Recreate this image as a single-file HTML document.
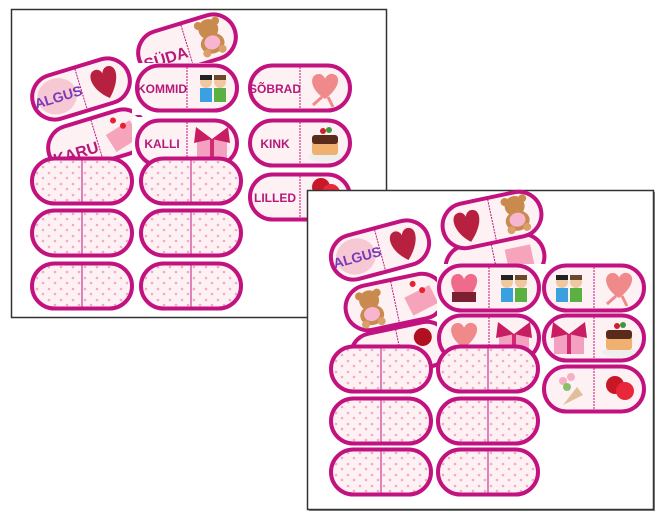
<!DOCTYPE html>
<html><head><meta charset="utf-8"><style>
html,body{margin:0;padding:0;background:#fff;width:663px;height:516px;overflow:hidden}
svg text{font-family:"Liberation Sans",sans-serif;font-weight:bold}
</style></head><body>
<svg width="663" height="516" viewBox="0 0 663 516" xmlns="http://www.w3.org/2000/svg">
<defs>
<pattern id="dots" width="12" height="11" patternUnits="userSpaceOnUse">
<rect width="12" height="11" fill="#fdf1f4"/>
<circle cx="3" cy="3" r="1.3" fill="#f4a9c4"/><circle cx="9" cy="8" r="1.3" fill="#f4a9c4"/>
</pattern>
<g id="pill"><rect x="-50" y="-22.5" width="100" height="45" rx="22.5" fill="#fdf1f4" stroke="#c1127f" stroke-width="4"/><line x1="0" y1="-21" x2="0" y2="21" stroke="#c1127f" stroke-width="1" stroke-dasharray="2 1"/></g>
<g id="blank"><rect x="-50" y="-22.5" width="100" height="45" rx="22.5" fill="url(#dots)" stroke="#c1127f" stroke-width="4"/><line x1="0" y1="-21" x2="0" y2="21" stroke="#c1127f" stroke-width="1"/></g>
<g id="heart"><path d="M0,17 C-16,4 -16,-14 -6,-14 C-2,-14 0,-10 0,-8 C0,-10 3,-15 8,-14 C17,-12 14,4 0,17Z" fill="#b8203f"/></g>
<g id="bear"><circle cx="-9" cy="-13" r="4" fill="#c98a4e"/><circle cx="9" cy="-13" r="4" fill="#c98a4e"/><circle cx="0" cy="-7" r="10" fill="#c98a4e"/><ellipse cx="0" cy="8" rx="12" ry="10" fill="#c98a4e"/><ellipse cx="0" cy="7" rx="8" ry="7" fill="#f7b5cf"/><circle cx="-8" cy="16" r="4" fill="#d9a06a"/><circle cx="8" cy="16" r="4" fill="#d9a06a"/></g>
<g id="boys"><circle cx="-7" cy="-9" r="6" fill="#f0c8a0"/><rect x="-13" y="-16" width="12" height="5" fill="#222"/><rect x="-13" y="-3" width="12" height="14" fill="#3aa0e0"/><circle cx="7" cy="-9" r="6" fill="#f0c8a0"/><rect x="1" y="-16" width="12" height="5" fill="#6a4a2a"/><rect x="1" y="-3" width="12" height="14" fill="#5ab040"/></g>
<g id="gift"><rect x="-15" y="-4" width="30" height="20" fill="#f4a0c0"/><rect x="-2" y="-4" width="4" height="20" fill="#d02a70"/><path d="M0,-4 L-16,-16 L-18,0Z M0,-4 L16,-16 L18,0Z" fill="#c81d62"/></g>
<g id="cake"><ellipse cx="0" cy="14" rx="17" ry="5" fill="#eee"/><rect x="-13" y="-6" width="26" height="18" rx="3" fill="#f0b070"/><rect x="-13" y="-8" width="26" height="9" rx="3" fill="#5a2a1a"/><circle cx="-2" cy="-12" r="3" fill="#d02030"/><circle cx="4" cy="-13" r="3" fill="#3a9a3a"/></g>
<g id="hchar"><path d="M0,10 C-16,0 -16,-15 -6,-15 C-2,-15 0,-11 0,-10 C0,-11 3,-16 8,-15 C17,-13 14,0 0,10Z" fill="#f08a8a"/><path d="M-3,8 L-12,16 M3,8 L8,18" stroke="#f08a8a" stroke-width="3"/></g>
<g id="box"><path d="M0,14 C-16,2 -16,-14 -6,-14 C-2,-14 0,-10 0,-8 C0,-10 3,-15 8,-14 C17,-12 14,2 0,14Z" fill="#f06a8a"/><rect x="-12" y="4" width="24" height="10" fill="#7a2030"/></g>
<g id="env"><rect x="-14" y="-6" width="28" height="20" fill="#f6a4bc" transform="rotate(-15)"/><circle cx="-4" cy="-14" r="3" fill="#e82030"/><circle cx="4" cy="-6" r="3" fill="#e82030"/></g>
<g id="flowers"><path d="M-6,16 L8,-2 L14,6Z" fill="#e0c09a"/><circle cx="-6" cy="-8" r="4" fill="#f4b0c4"/><circle cx="2" cy="-12" r="4" fill="#f4b0c4"/><circle cx="-2" cy="-2" r="4" fill="#8abf6a"/></g>
<g id="balloon"><circle cx="-4" cy="-4" r="9" fill="#c81828"/><circle cx="6" cy="2" r="9" fill="#e8283a"/></g>
<g id="blob"><ellipse cx="0" cy="0" rx="20" ry="18" fill="#f6c8d4"/></g>
</defs>

<!-- panel 1 -->
<rect x="11.5" y="9.5" width="375" height="308" fill="#fff" stroke="#333" stroke-width="1.5"/>
<g transform="translate(187,45) rotate(-17)"><use href="#pill"/><use href="#bear" x="25" y="-2"/><text x="-24" y="12" font-size="16" fill="#b5197a" text-anchor="middle">SÜDA</text></g>
<g transform="translate(81,89) rotate(-17)"><use href="#pill"/><use href="#blob" x="-25"/><use href="#heart" x="25"/><text x="-24" y="6" font-size="14" fill="#7a3ab8" text-anchor="middle">ALGUS</text></g>
<g transform="translate(97,140) rotate(-17)"><use href="#pill"/><use href="#env" x="25"/><text x="-24" y="12" font-size="16" fill="#b5197a" text-anchor="middle">KARU</text></g>
<rect x="132" y="63" width="112" height="52" fill="#fff"/>
<rect x="132" y="117" width="112" height="40" fill="#fff"/>
<g transform="translate(187,88)"><use href="#pill"/><use href="#boys" x="26" y="3"/><text x="-25" y="5" font-size="12" fill="#b5197a" text-anchor="middle">KOMMID</text></g>
<g transform="translate(300,88)"><use href="#pill"/><use href="#hchar" x="25" y="1"/><text x="-25" y="5" font-size="12" fill="#b5197a" text-anchor="middle">SÕBRAD</text></g>
<g transform="translate(187,143)"><use href="#pill"/><use href="#gift" x="25" y="0"/><text x="-25" y="5" font-size="12" fill="#b5197a" text-anchor="middle">KALLI</text></g>
<g transform="translate(300,143)"><use href="#pill"/><use href="#cake" x="25"/><text x="-25" y="5" font-size="12" fill="#b5197a" text-anchor="middle">KINK</text></g>
<g transform="translate(300,197)"><use href="#pill"/><use href="#balloon" x="25" y="-6"/><text x="-25" y="5" font-size="12" fill="#b5197a" text-anchor="middle">LILLED</text></g>
<use href="#blank" x="82" y="181"/><use href="#blank" x="191" y="181"/>
<use href="#blank" x="82" y="233"/><use href="#blank" x="191" y="233"/>
<use href="#blank" x="82" y="286"/><use href="#blank" x="191" y="286"/>

<!-- panel 2 -->
<rect x="309" y="192" width="346" height="319" fill="#888"/>
<rect x="307.5" y="190.5" width="346" height="319" fill="#fff" stroke="#333" stroke-width="1.5"/>
<g transform="translate(495,262) rotate(-12)"><use href="#pill"/><rect x="12" y="-10" width="26" height="20" fill="#f6a4bc"/></g>
<g transform="translate(492,220) rotate(-12)"><use href="#pill"/><use href="#heart" x="-25"/><use href="#bear" x="25" y="-2"/></g>
<g transform="translate(380,250) rotate(-15)"><use href="#pill"/><use href="#blob" x="-25"/><use href="#heart" x="25"/><text x="-24" y="6" font-size="14" fill="#7a3ab8" text-anchor="middle">ALGUS</text></g>
<g transform="translate(400,350) rotate(-12)"><use href="#pill"/><circle cx="25" cy="-8" r="9" fill="#b01020"/></g>
<g transform="translate(395,302) rotate(-12)"><use href="#pill"/><use href="#bear" x="-25"/><use href="#env" x="25"/></g>
<rect x="437" y="264" width="108" height="50" fill="#fff"/>
<rect x="437" y="314" width="108" height="30" fill="#fff"/>
<g transform="translate(489,288)"><use href="#pill"/><use href="#box" x="-25"/><use href="#boys" x="25" y="3"/></g>
<g transform="translate(594,288)"><use href="#pill"/><use href="#boys" x="-25" y="3"/><use href="#hchar" x="25"/></g>
<g transform="translate(489,338)"><use href="#pill"/><use href="#hchar" x="-25"/><use href="#gift" x="25"/></g>
<g transform="translate(594,338)"><use href="#pill"/><use href="#gift" x="-25"/><use href="#cake" x="25"/></g>
<g transform="translate(594,389)"><use href="#pill"/><use href="#flowers" x="-25"/><use href="#balloon" x="25"/></g>
<use href="#blank" x="381" y="369"/><use href="#blank" x="488" y="369"/>
<use href="#blank" x="381" y="421"/><use href="#blank" x="488" y="421"/>
<use href="#blank" x="381" y="472"/><use href="#blank" x="488" y="472"/>
</svg>
</body></html>
